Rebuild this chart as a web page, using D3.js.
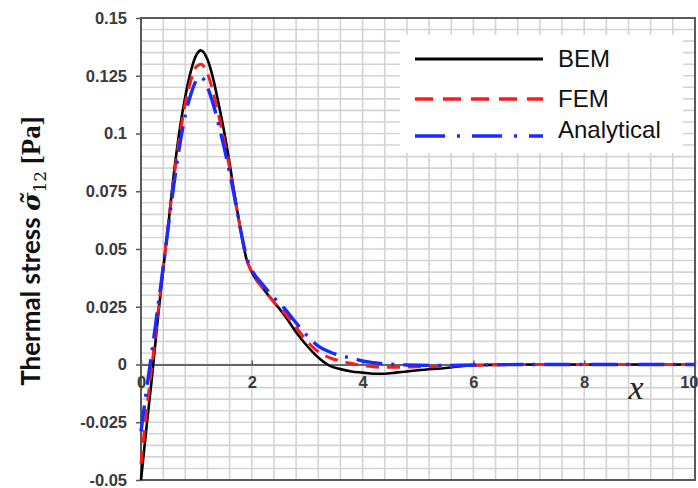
<!DOCTYPE html>
<html>
<head>
<meta charset="utf-8">
<script src="https://cdn.jsdelivr.net/npm/d3@7/dist/d3.min.js"></script>
<style>
  html, body { margin: 0; padding: 0; background: #fff; }
  svg { display: block; }
</style>
</head>
<body>
<svg id="chart" width="698" height="488"></svg>
<script>
// Sample positions along x (shared by all three series)
const xs = [0, 0.1, 0.2, 0.3, 0.4, 0.5, 0.6, 0.7, 0.8, 0.9, 1.0, 1.08, 1.2, 1.3, 1.4, 1.5, 1.6, 1.7, 1.8, 1.9,
            2.0, 2.2, 2.4, 2.6, 2.8, 3.0, 3.2, 3.4, 3.6, 3.8, 4.0, 4.2, 4.4, 4.6, 4.8, 5.0, 5.5, 6.0, 7, 8, 9, 10];

// Shear thermal stress from the boundary element solution
const bem = [-0.05, -0.027, -0.005, 0.019, 0.041, 0.062, 0.084, 0.102, 0.116, 0.127, 0.134, 0.136, 0.132, 0.124, 0.113, 0.101, 0.087, 0.072, 0.058, 0.046,
             0.040, 0.033, 0.027, 0.021, 0.014, 0.008, 0.003, -0.0005, -0.002, -0.003, -0.0035, -0.004, -0.004, -0.0035, -0.003, -0.0025, -0.0015, -0.0003, 0, 0, 0, 0];

// Finite element solution
const fem = [-0.043, -0.02, 0.0, 0.021, 0.042, 0.062, 0.082, 0.099, 0.113, 0.123, 0.129, 0.130, 0.126, 0.118, 0.108, 0.097, 0.085, 0.071, 0.058, 0.046,
             0.040, 0.033, 0.027, 0.022, 0.016, 0.010, 0.0055, 0.003, 0.0015, 0.0005, -0.0005, -0.001, -0.0012, -0.0012, -0.0011, -0.001, -0.0008, -0.0003, 0, 0, 0, 0];

// Closed-form solution
const analytical = [-0.029, -0.011, 0.006, 0.024, 0.042, 0.061, 0.079, 0.095, 0.108, 0.117, 0.123, 0.1245, 0.120, 0.113, 0.104, 0.094, 0.083, 0.071, 0.058, 0.047,
                    0.041, 0.0345, 0.029, 0.024, 0.018, 0.0125, 0.008, 0.0055, 0.0038, 0.0028, 0.0015, 0.0008, 0.0003, 0, -0.0002, -0.0003, -0.0004, -0.0002, 0, 0, 0, 0];

const seriesNames = ["BEM", "FEM", "Analytical"];

// Axis ticks and labels
const xTicks = [0, 2, 4, 6, 8, 10];
const xTickLabels = ["0", "2", "4", "6", "8", "10"];
const yTicks = [0.15, 0.125, 0.1, 0.075, 0.05, 0.025, 0, -0.025, -0.05];
const yTickLabels = ["0.15", "0.125", "0.1", "0.075", "0.05", "0.025", "0", "-0.025", "-0.05"];

const svg = d3.select("#chart");

const x = d3.scaleLinear().domain([0, 10]).range([141, 695]);
const y = d3.scaleLinear().domain([-0.05, 0.15]).range([480, 18]);

// Light grid: every 0.4 in x, every 0.005 in y
const gridX = d3.range(0, 10.0001, 0.4);
const gridY = d3.range(-0.05, 0.15001, 0.005);
const grid = svg.append("g").attr("stroke", "#d3d3d3").attr("stroke-width", 1.6);
grid.selectAll("line.v").data(gridX).join("line")
  .attr("x1", d => x(d)).attr("x2", d => x(d))
  .attr("y1", y(-0.05)).attr("y2", y(0.15));
grid.selectAll("line.h").data(gridY).join("line")
  .attr("x1", x(0)).attr("x2", x(10))
  .attr("y1", d => y(d)).attr("y2", d => y(d));

// Plot frame
svg.append("rect")
  .attr("x", x(0)).attr("y", y(0.15))
  .attr("width", x(10) - x(0)).attr("height", y(-0.05) - y(0.15))
  .attr("fill", "none").attr("stroke", "#5a5a5a").attr("stroke-width", 2);

const tickFont = "'Liberation Sans', Arial, sans-serif";

// Y axis on the left edge
const yAxis = d3.axisLeft(y)
  .tickValues(yTicks)
  .tickFormat((d, i) => yTickLabels[i])
  .tickSizeInner(5).tickSizeOuter(0).tickPadding(9);
const gy = svg.append("g").attr("transform", `translate(${x(0)},0)`).call(yAxis);
gy.select(".domain").remove();
gy.selectAll(".tick line").attr("stroke", "#5a5a5a").attr("stroke-width", 1.5);
gy.selectAll(".tick text")
  .attr("font-family", tickFont)
  .attr("font-weight", "bold").attr("font-size", 16.5).attr("fill", "#3a3a3a");

// X axis along the zero line, ticks pointing up, labels below
const xAxis = d3.axisBottom(x)
  .tickValues(xTicks)
  .tickFormat((d, i) => xTickLabels[i])
  .tickSizeInner(-4).tickSizeOuter(0).tickPadding(12);
const gx = svg.append("g").attr("transform", `translate(0,${y(0)})`).call(xAxis);
gx.select(".domain").attr("stroke", "#666").attr("stroke-width", 2);
gx.selectAll(".tick line").attr("stroke", "#5a5a5a").attr("stroke-width", 1.5);
gx.selectAll(".tick text")
  .attr("font-family", tickFont)
  .attr("font-weight", "bold").attr("font-size", 16.5).attr("fill", "#3a3a3a");
// keep the last label inside the page edge
gx.selectAll(".tick text").filter((d, i) => i === xTicks.length - 1)
  .attr("text-anchor", "end").attr("x", 698 - x(10));

// Curves
const line = values => d3.line()
  .x((d, i) => x(xs[i]))
  .y(d => y(d))
  .curve(d3.curveMonotoneX)(values);

const styles = [
  { color: "#000000", width: 2.6, dash: null },
  { color: "#ff1a1a", width: 3, dash: "13,8" },
  { color: "#1a2bff", width: 3.4, dash: "26,9,3,9" }
];
const seriesValues = [bem, fem, analytical];

svg.append("g").selectAll("path").data(seriesValues).join("path")
  .attr("d", d => line(d))
  .attr("fill", "none")
  .attr("stroke", (d, i) => styles[i].color)
  .attr("stroke-width", (d, i) => styles[i].width)
  .attr("stroke-dasharray", (d, i) => styles[i].dash)
  .attr("stroke-linejoin", "round");

// Legend
const lg = svg.append("g");
lg.append("rect").attr("x", 400).attr("y", 35).attr("width", 283).attr("height", 118).attr("fill", "#fff");
const legendDash = [null, "18,10", "30,12,3,12"];
const legendY = [59, 99, 136];
const legendBase = [67, 106.5, 137.5];
seriesNames.forEach((name, i) => {
  lg.append("line")
    .attr("x1", 415).attr("x2", 543)
    .attr("y1", legendY[i]).attr("y2", legendY[i])
    .attr("stroke", styles[i].color)
    .attr("stroke-width", i === 0 ? 3 : 3.4)
    .attr("stroke-dasharray", legendDash[i]);
  lg.append("text")
    .attr("x", 558).attr("y", legendBase[i])
    .attr("font-family", "'Liberation Sans', Arial, sans-serif")
    .attr("font-size", 24).attr("fill", "#111")
    .text(name);
});

// Axis titles
svg.append("text")
  .attr("x", 636).attr("y", 399)
  .attr("text-anchor", "middle")
  .attr("font-family", "'Liberation Serif', 'Times New Roman', serif")
  .attr("font-style", "italic").attr("font-size", 34).attr("fill", "#222")
  .text("x");

const yt = svg.append("text")
  .attr("transform", "translate(40,251) rotate(-90)")
  .attr("text-anchor", "middle")
  .attr("fill", "#111");
yt.append("tspan")
  .attr("font-family", "Lato, 'Open Sans', sans-serif")
  .attr("font-weight", "bold").attr("font-size", 26)
  .text("Thermal stress ");
yt.append("tspan")
  .attr("font-family", "'DejaVu Serif', serif")
  .attr("font-style", "italic").attr("font-weight", "bold")
  .attr("font-size", 25)
  .text("σ\u0303");
yt.append("tspan")
  .attr("font-family", "'DejaVu Serif', serif")
  .attr("font-size", 17).attr("dy", 6)
  .text("12");
yt.append("tspan")
  .attr("font-family", "'Liberation Serif', serif")
  .attr("font-weight", "bold").attr("font-size", 27).attr("dy", -6)
  .text(" [Pa]");
</script>
</body>
</html>
